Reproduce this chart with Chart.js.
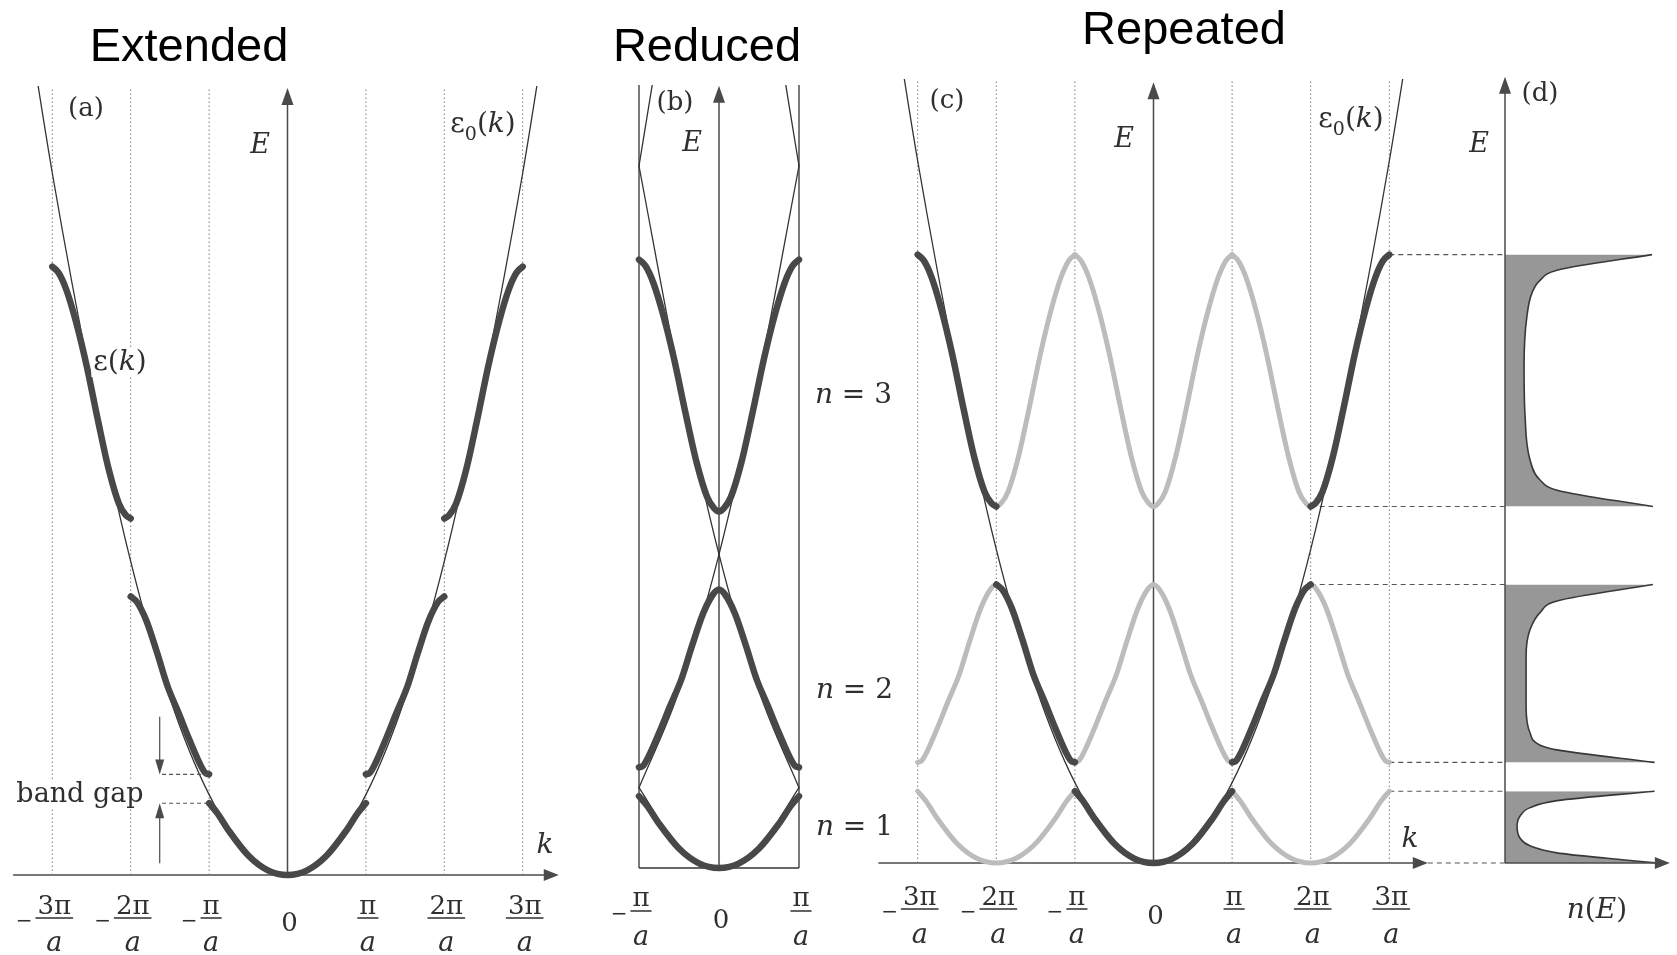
<!DOCTYPE html>
<html lang="en">
<head>
<meta charset="UTF-8">
<title>Extended, reduced and repeated zone schemes</title>
<style>
  html, body { margin: 0; padding: 0; background: #fff; }
  #page { position: relative; width: 1677px; height: 955px; overflow: hidden; background: #fff; }
  #page canvas { position: absolute; left: 0; top: 0; }
</style>
</head>
<body>
<div id="page">
  <canvas id="chartA" width="1677" height="955"></canvas>
  <canvas id="chartB" width="1677" height="955"></canvas>
  <canvas id="chartC" width="1677" height="955"></canvas>
</div>
<script src="https://cdn.jsdelivr.net/npm/chart.js/dist/chart.umd.min.js"></script>
<script>
// k in units of pi/a, E in units of the free electron energy at k = pi/a
const zoneEdges = [-3, -2, -1, 1, 2, 3];
const reducedEdges = [-1, 1];
const tickValues = [-3, -2, -1, 0, 1, 2, 3];
const tickNumerators = ['3π', '2π', 'π', '0', 'π', '2π', '3π'];
const reducedTickValues = [-1, 0, 1];
const reducedTickNumerators = ['π', '0', 'π'];

// free electron parabola ε0(k), read for k >= 0 (mirrored)
const freeK = [0, 0.5, 1, 1.5, 2, 2.5, 3, 3.35];
const freeE = [0, 0.26, 1.03, 2.27, 4.02, 6.3, 9.0, 11.2];

// bands ε(k), k >= 0 half
const band1K = [0, 0.25, 0.5, 0.75, 0.9, 1.0];
const band1E = [0, 0.06, 0.25, 0.57, 0.80, 0.92];
const band2K = [1.0, 1.05, 1.12, 1.25, 1.39, 1.53, 1.66, 1.80, 1.92, 2.0];
const band2E = [1.29, 1.31, 1.43, 1.73, 2.08, 2.42, 2.84, 3.26, 3.50, 3.57];
const band3K = [2.0, 2.06, 2.15, 2.28, 2.42, 2.56, 2.70, 2.82, 2.92, 3.0];
const band3E = [4.57, 4.61, 4.76, 5.20, 5.84, 6.52, 7.10, 7.50, 7.72, 7.80];

// density of states n(E), panel (d)
const dos1E = [0.00, 0.06, 0.13, 0.22, 0.32, 0.47, 0.60, 0.71, 0.80, 0.92];
const dos1N = [0.90, 0.60, 0.306, 0.147, 0.088, 0.071, 0.088, 0.147, 0.306, 0.88];
const dos2E = [1.29, 1.45, 1.51, 1.67, 2.01, 2.65, 2.99, 3.21, 3.36, 3.57];
const dos2N = [0.88, 0.306, 0.206, 0.147, 0.124, 0.124, 0.147, 0.206, 0.306, 0.87];
const dos3E = [4.57, 4.78, 4.91, 5.17, 5.73, 6.37, 7.01, 7.31, 7.47, 7.60, 7.80];
const dos3N = [0.87, 0.306, 0.206, 0.147, 0.118, 0.112, 0.129, 0.159, 0.206, 0.306, 0.865];

const W = 1677, H = 955;
const SERIF = '"DejaVu Serif", "Liberation Serif", serif';
const SANS = '"Liberation Sans", Arial, sans-serif';
const DARK = '#484848';
const THIN = '#333333';
const GREY = '#bcbcbc';
const AXIS = '#4a4a4a';
const TEXT = '#2f2f2f';
const gridTop = 10.1;

// ---------- point helpers ----------
function half(ks, es, sign, shift) {
  return ks.map((k, i) => ({ x: sign * k + shift, y: es[i] })).sort((a, b) => a.x - b.x);
}
function join(...parts) {
  const pts = [].concat(...parts).sort((a, b) => a.x - b.x);
  return pts.filter((p, i) => i === 0 || Math.abs(p.x - pts[i - 1].x) > 1e-9);
}
function whole(ks, es) { return join(half(ks, es, -1, 0), half(ks, es, 1, 0)); }
function moved(pts, s) { return pts.map(p => ({ x: p.x + s, y: p.y })); }
function inside(pts, lim) { return pts.filter(p => Math.abs(p.x) <= lim + 1e-9); }

const freeCurve = whole(freeK, freeE);
const extendedBands = [
  whole(band1K, band1E),
  half(band2K, band2E, -1, 0), half(band2K, band2E, 1, 0),
  half(band3K, band3E, -1, 0), half(band3K, band3E, 1, 0)
];
const reducedBand2 = join(half(band2K, band2E, 1, -2), half(band2K, band2E, -1, 2));
const reducedBand3 = join(half(band3K, band3E, 1, -2), half(band3K, band3E, -1, 2));

// ---------- dataset styles ----------
function curve(points, color, width, extra) {
  return Object.assign({
    data: points, borderColor: color, borderWidth: width, pointRadius: 0, fill: false,
    cubicInterpolationMode: 'monotone', borderCapStyle: 'round', borderJoinStyle: 'round'
  }, extra || {});
}
function vline(k, color, width, dash) {
  return { data: [{ x: k, y: 0 }, { x: k, y: gridTop }], borderColor: color, borderWidth: width,
    borderDash: dash, pointRadius: 0, fill: false, tension: 0 };
}
function stack(list) { return list.map((d, i) => Object.assign(d, { order: list.length - i })); }

// ---------- drawing helpers ----------
function P(chart, x, y, xs) {
  return [chart.scales[xs || 'x'].getPixelForValue(x), chart.scales.y.getPixelForValue(y)];
}
function seg(ctx, a, b, color, width, dash) {
  ctx.save();
  ctx.beginPath();
  ctx.strokeStyle = color; ctx.lineWidth = width; ctx.setLineDash(dash || []);
  ctx.moveTo(a[0], a[1]); ctx.lineTo(b[0], b[1]);
  ctx.stroke();
  ctx.restore();
}
function arrow(ctx, a, b, len, halfW, width) {
  const dx = b[0] - a[0], dy = b[1] - a[1], d = Math.hypot(dx, dy);
  const ux = dx / d, uy = dy / d;
  seg(ctx, a, [b[0] - ux * (len - 2), b[1] - uy * (len - 2)], AXIS, width);
  ctx.save();
  ctx.fillStyle = AXIS;
  ctx.beginPath();
  ctx.moveTo(b[0], b[1]);
  ctx.lineTo(b[0] - ux * len - uy * halfW, b[1] - uy * len + ux * halfW);
  ctx.lineTo(b[0] - ux * len + uy * halfW, b[1] - uy * len - ux * halfW);
  ctx.closePath();
  ctx.fill();
  ctx.restore();
}
// parts: [text, style] with style '' | 'i' (italic) | 's' (subscript)
function rich(ctx, x, y, parts, size, align, bg) {
  const fonts = parts.map(p => (p[1] === 'i' ? 'italic ' : '') + (p[1] === 's' ? Math.round(size * 0.68) : size) + 'px ' + SERIF);
  let w = 0;
  const ws = parts.map((p, i) => { ctx.font = fonts[i]; const m = ctx.measureText(p[0]).width; w += m; return m; });
  let cx = align === 'right' ? x - w : align === 'left' ? x : x - w / 2;
  ctx.save();
  if (bg) { ctx.fillStyle = '#fff'; ctx.fillRect(cx - 2, y - size * 0.8, w + 4, size * 1.05); }
  ctx.fillStyle = TEXT; ctx.textAlign = 'left'; ctx.textBaseline = 'alphabetic';
  parts.forEach((p, i) => {
    ctx.font = fonts[i];
    ctx.fillText(p[0], cx, y + (p[1] === 's' ? size * 0.3 : 0));
    cx += ws[i];
  });
  ctx.restore();
}
function fracTicks(ctx, scale, values, nums, y) {
  const size = 26;
  ctx.save();
  ctx.fillStyle = TEXT; ctx.textBaseline = 'alphabetic';
  values.forEach((v, i) => {
    const x = scale.getPixelForValue(v) + 2;
    ctx.textAlign = 'center';
    ctx.font = size + 'px ' + SERIF;
    if (v === 0) { ctx.fillText(nums[i], x, y.zero); return; }
    const wn = ctx.measureText(nums[i]).width;
    ctx.fillText(nums[i], x, y.num);
    ctx.font = 'italic ' + (size + 1) + 'px ' + SERIF;
    ctx.fillText('a', x, y.den);
    const bw = Math.max(wn + 4, 20);
    seg(ctx, [x - bw / 2, y.bar], [x + bw / 2, y.bar], TEXT, 1.5);
    if (v < 0) {
      ctx.font = '20px ' + SERIF;
      ctx.textAlign = 'right';
      ctx.fillText('−', x - bw / 2 - 3, y.bar + 9);
    }
  });
  ctx.restore();
}
function title(ctx, text, x, y) {
  ctx.save();
  ctx.font = '47px ' + SANS; ctx.fillStyle = '#000';
  ctx.textAlign = 'center'; ctx.textBaseline = 'alphabetic';
  ctx.fillText(text, x, y);
  ctx.restore();
}

// ---------- frames: pixel anchors -> scale ranges ----------
function xRange(left, right, zero, unit) { return { min: (left - zero) / unit, max: (right - zero) / unit }; }
function yRange(top, bottom, zero, unit) { return { min: (zero - bottom) / unit, max: (zero - top) / unit }; }
function pad(left, right, top, bottom) { return { left: left, right: W - right, top: top, bottom: H - bottom }; }
function hidden(r, extra) { return Object.assign({ type: 'linear', display: false, min: r.min, max: r.max }, extra || {}); }

function makeChart(id, padding, scales, datasets, plugin) {
  return new Chart(document.getElementById(id), {
    type: 'line',
    data: { datasets: stack(datasets) },
    options: {
      responsive: false, animation: false, events: [],
      layout: { padding: padding },
      plugins: { legend: { display: false }, tooltip: { enabled: false } },
      scales: scales
    },
    plugins: [plugin]
  });
}

// ---------- (a) extended zone ----------
const dsA = [];
zoneEdges.forEach(k => dsA.push(vline(k, '#7a7a7a', 1, [1.5, 2.5])));
dsA.push(curve(freeCurve, THIN, 1.3));
extendedBands.forEach(b => dsA.push(curve(b, DARK, 6.5)));

makeChart('chartA', pad(0, 578, 86, 955), {
  x: hidden(xRange(0, 578, 287.5, 78.4)),
  y: hidden(yRange(86, 955, 875, 78))
}, dsA, {
  id: 'panelA',
  beforeDatasetsDraw(chart) {
    const ctx = chart.ctx;
    arrow(ctx, P(chart, -3.5, 0), P(chart, 3.46, 0), 15, 6, 1.5);
    arrow(ctx, P(chart, 0, 0), P(chart, 0, 10.09), 17, 6, 1.5);
  },
  afterDatasetsDraw(chart) {
    const ctx = chart.ctx;
    const gapTop = band2E[0], gapBottom = band1E[band1E.length - 1];
    seg(ctx, P(chart, -1.6, gapTop), P(chart, -1, gapTop), '#555', 1.1, [4, 3]);
    seg(ctx, P(chart, -1.6, gapBottom), P(chart, -1, gapBottom), '#555', 1.1, [4, 3]);
    arrow(ctx, P(chart, -1.63, 2.03), P(chart, -1.63, gapTop), 15, 4.5, 1.2);
    arrow(ctx, P(chart, -1.63, 0.15), P(chart, -1.63, gapBottom), 15, 4.5, 1.2);
    rich(ctx, 86, 116, [['(a)', '']], 26, 'center');
    rich(ctx, 260, 153, [['E', 'i']], 27, 'center');
    rich(ctx, 483, 132, [['ε', ''], ['0', 's'], ['(', ''], ['k', 'i'], [')', '']], 28, 'center');
    rich(ctx, 120, 370, [['ε', ''], ['(', ''], ['k', 'i'], [')', '']], 28, 'center', true);
    rich(ctx, 80, 802, [['band gap', '']], 27, 'center', true);
    rich(ctx, 545, 853, [['k', 'i']], 28, 'center');
    fracTicks(ctx, chart.scales.x, tickValues, tickNumerators, { num: 914, bar: 918, den: 951, zero: 931 });
    title(ctx, 'Extended', 189, 61);
  }
});

// ---------- (b) reduced zone ----------
const dsB = [];
reducedEdges.forEach(k => dsB.push(vline(k, THIN, 1.3, [])));
[-4, -2, 0, 2, 4].forEach(s => {
  const pts = inside(moved(freeCurve, s), 1);
  if (pts.length > 1) dsB.push(curve(pts, THIN, 1.3));
});
[inside(extendedBands[0], 1), reducedBand2, reducedBand3].forEach(b => dsB.push(curve(b, DARK, 6.5)));

makeChart('chartB', pad(600, 840, 85, 955), {
  x: hidden(xRange(600, 840, 719, 80)),
  y: hidden(yRange(85, 955, 868, 78))
}, dsB, {
  id: 'panelB',
  beforeDatasetsDraw(chart) {
    const ctx = chart.ctx;
    seg(ctx, P(chart, -1, 0), P(chart, 1, 0), THIN, 1.4);
    arrow(ctx, P(chart, 0, 0), P(chart, 0, 10.03), 17, 6, 1.5);
  },
  afterDatasetsDraw(chart) {
    const ctx = chart.ctx;
    rich(ctx, 675, 110, [['(b)', '']], 26, 'center');
    rich(ctx, 692, 151, [['E', 'i']], 27, 'center');
    fracTicks(ctx, chart.scales.x, reducedTickValues, reducedTickNumerators, { num: 906, bar: 911, den: 945, zero: 928 });
    title(ctx, 'Reduced', 707, 61);
  }
});

// ---------- (c) repeated zone and (d) density of states ----------
const dsC = [];
zoneEdges.forEach(k => dsC.push(vline(k, '#7a7a7a', 1, [1.5, 2.5])));
[-2, 0, 2].forEach(s => {
  [extendedBands[0], reducedBand2, reducedBand3].forEach(b => dsC.push(curve(moved(b, s), GREY, 5)));
});
dsC.push(curve(freeCurve, THIN, 1.3));
extendedBands.forEach(b => dsC.push(curve(b, DARK, 6.5)));
[[dos1E, dos1N], [dos2E, dos2N], [dos3E, dos3N]].forEach(([es, ns]) => {
  dsC.push(curve(es.map((e, i) => ({ x: ns[i], y: e })), '#383838', 1.6, {
    xAxisID: 'xn', indexAxis: 'y', fill: 'origin', backgroundColor: '#979797', borderCapStyle: 'butt'
  }));
});

makeChart('chartC', pad(860, 1677, 79, 955), {
  x: hidden(xRange(860, 1677, 1153.5, 78.6)),
  xn: hidden(xRange(860, 1677, 1505, 170), { axis: 'x' }),
  y: hidden(yRange(79, 955, 863, 78))
}, dsC, {
  id: 'panelC',
  beforeDatasetsDraw(chart) {
    const ctx = chart.ctx;
    arrow(ctx, P(chart, -3.5, 0), P(chart, 3.49, 0), 15, 6, 1.5);
    arrow(ctx, P(chart, 0, 0), P(chart, 0, 10.01), 17, 6, 1.5);
    const levels = [
      [3, band3E[band3E.length - 1]], [2, band3E[0]], [2, band2E[band2E.length - 1]],
      [3, band2E[0]], [3, band1E[band1E.length - 1]], [3.49, 0]
    ];
    levels.forEach(([k, e]) => seg(ctx, P(chart, k, e), P(chart, 0, e, 'xn'), '#555', 1.1, [5, 4]));
  },
  afterDatasetsDraw(chart) {
    const ctx = chart.ctx;
    arrow(ctx, P(chart, 0, 0, 'xn'), P(chart, 0, 10.08, 'xn'), 17, 6, 1.5);
    arrow(ctx, P(chart, 0, 0, 'xn'), P(chart, 0.97, 0, 'xn'), 15, 6, 1.5);
    rich(ctx, 947, 108, [['(c)', '']], 26, 'center');
    rich(ctx, 1124, 147, [['E', 'i']], 27, 'center');
    rich(ctx, 1351, 127, [['ε', ''], ['0', 's'], ['(', ''], ['k', 'i'], [')', '']], 28, 'center');
    rich(ctx, 892, 403, [['n', 'i'], [' = 3', '']], 28, 'right');
    rich(ctx, 893, 698, [['n', 'i'], [' = 2', '']], 28, 'right');
    rich(ctx, 893, 835, [['n', 'i'], [' = 1', '']], 28, 'right');
    rich(ctx, 1410, 847, [['k', 'i']], 28, 'center');
    rich(ctx, 1540, 101, [['(d)', '']], 26, 'center');
    rich(ctx, 1479, 152, [['E', 'i']], 27, 'center');
    rich(ctx, 1597, 918, [['n', 'i'], ['(', ''], ['E', 'i'], [')', '']], 28, 'center');
    fracTicks(ctx, chart.scales.x, tickValues, tickNumerators, { num: 905, bar: 909, den: 943, zero: 924 });
    title(ctx, 'Repeated', 1184, 44);
  }
});
</script>
</body>
</html>
